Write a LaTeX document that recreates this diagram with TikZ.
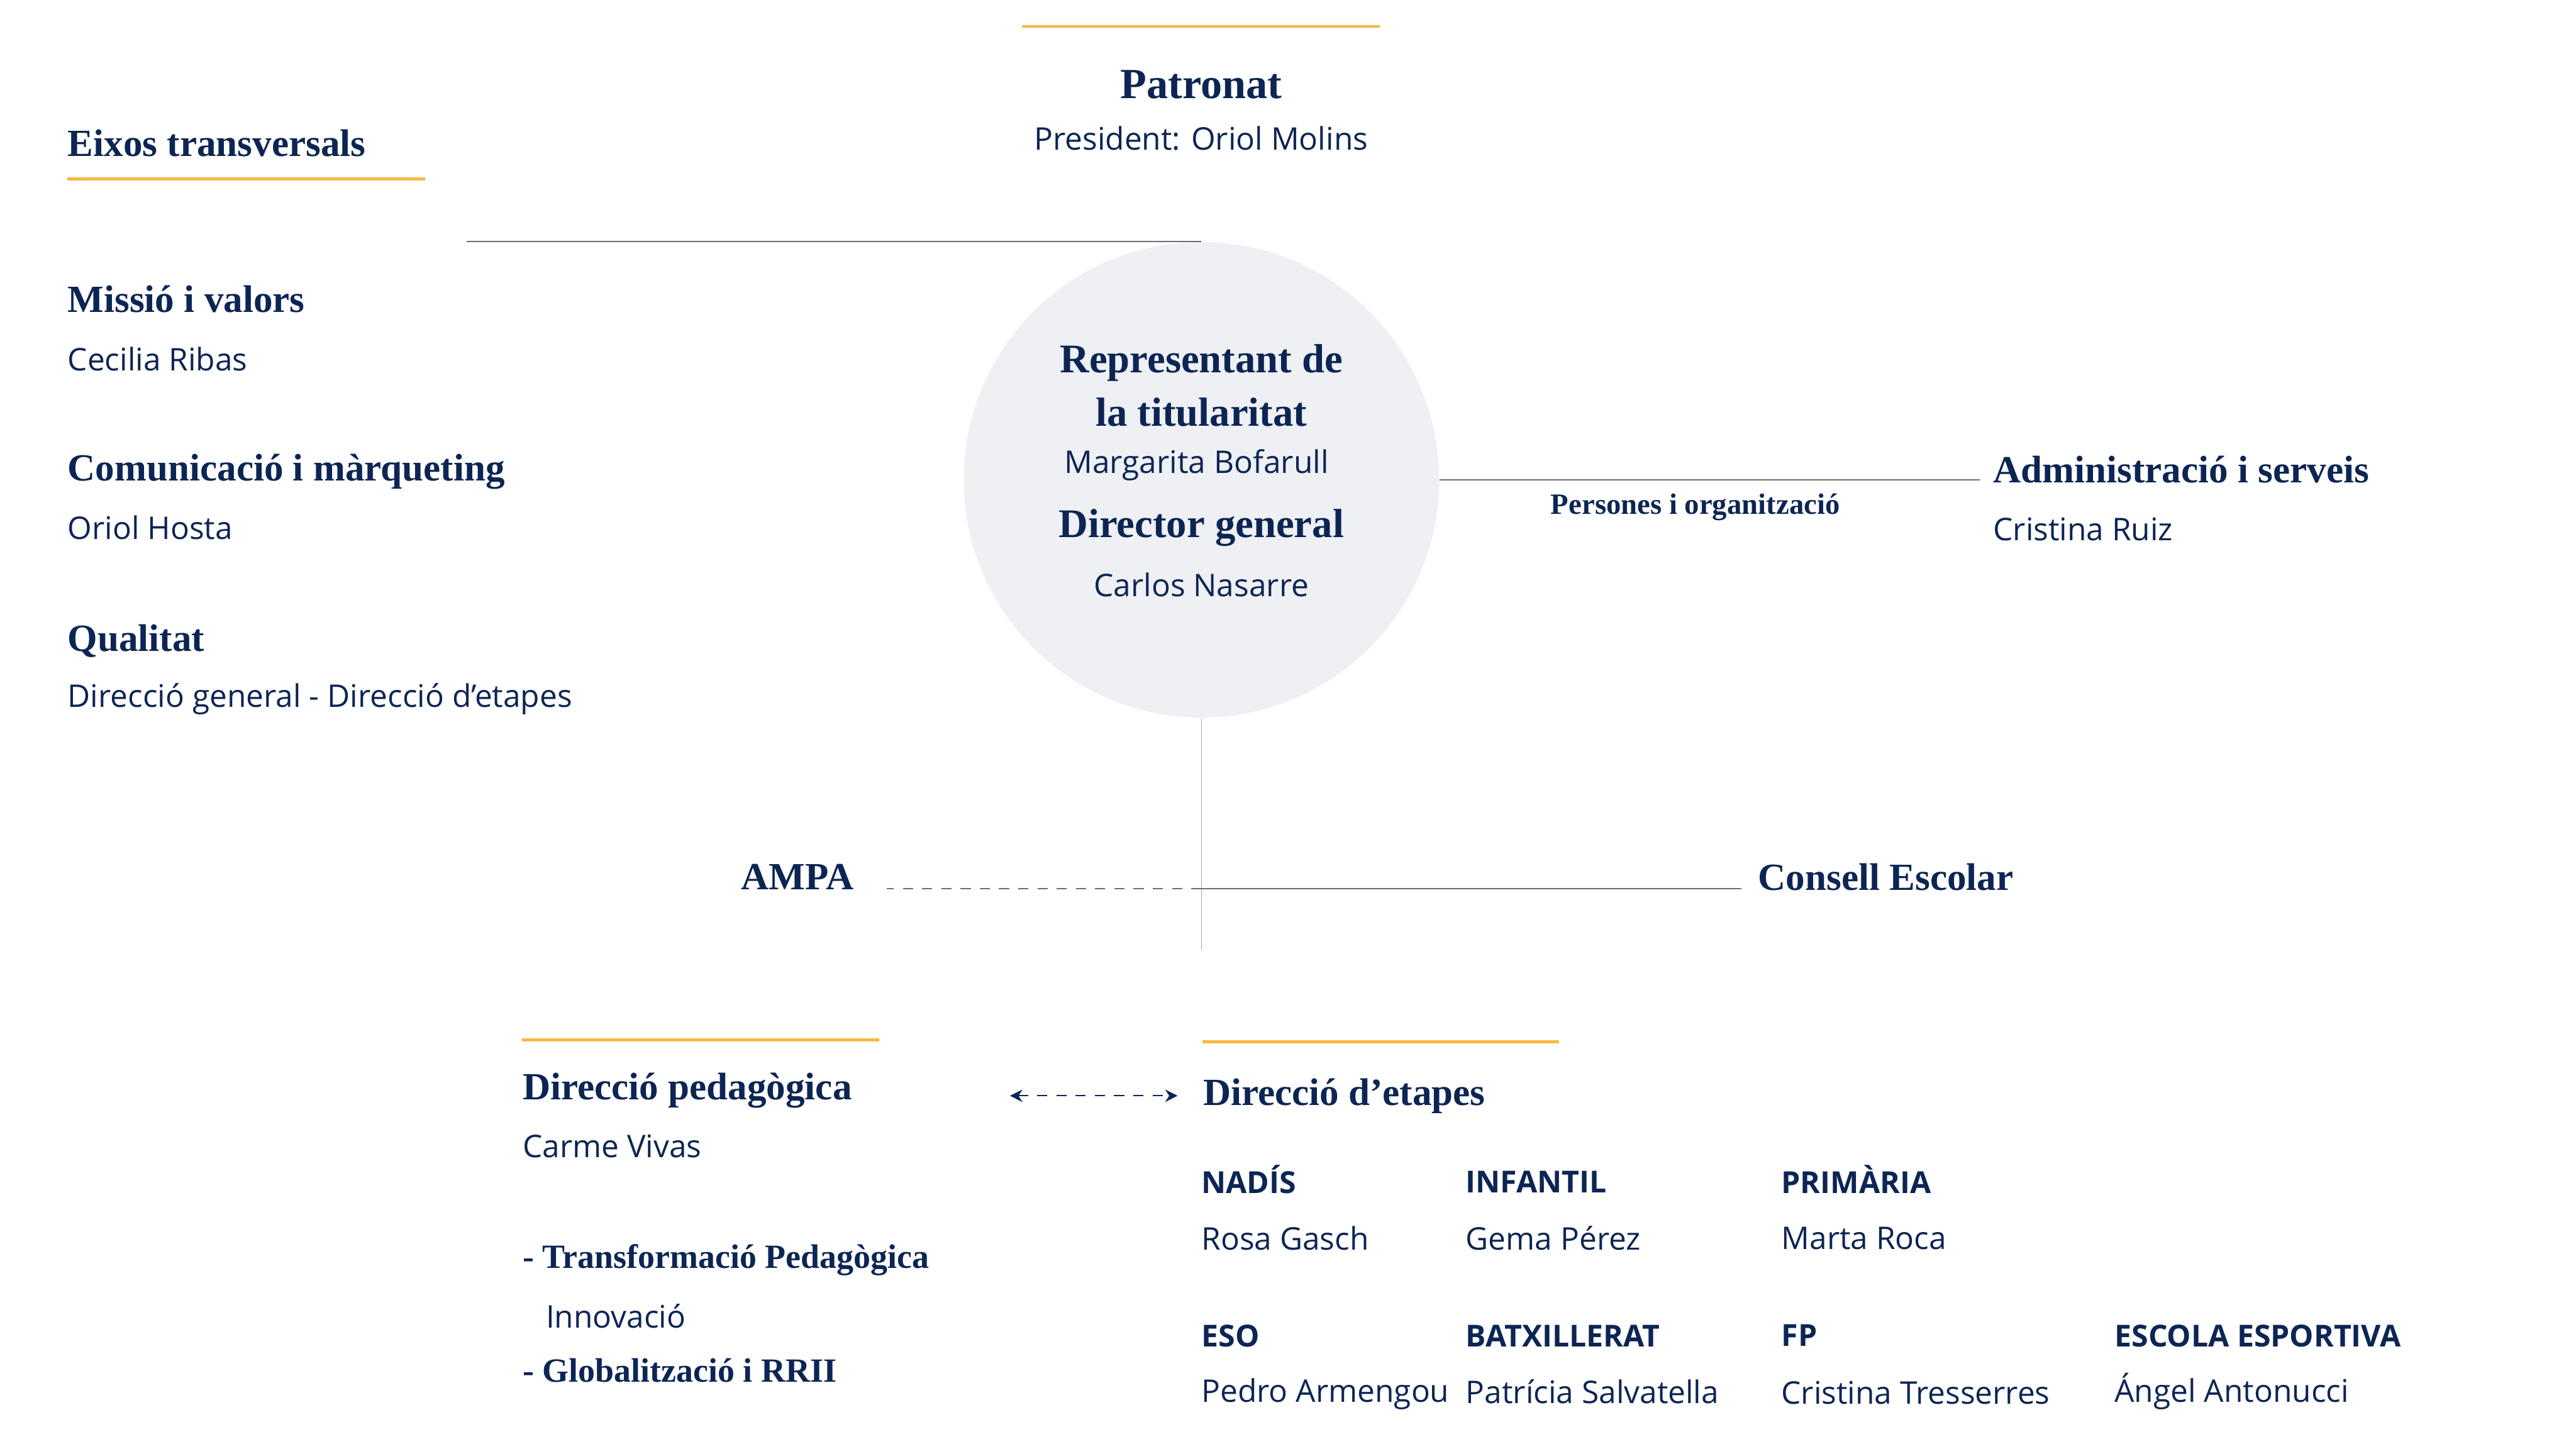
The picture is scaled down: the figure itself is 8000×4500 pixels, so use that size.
\documentclass[tikz,border=0pt]{standalone}
\usepackage{fontspec}
\setmainfont{Liberation Serif}
\setsansfont{Open Sans}
\usetikzlibrary{positioning, arrows.meta}
\definecolor{navy}{RGB}{12,37,84}
\definecolor{gold}{RGB}{245,184,65}
\definecolor{graylink}{RGB}{110,110,110}
\definecolor{graythin}{RGB}{165,165,165}
\definecolor{circlefill}{RGB}{238,240,243}
\tikzset{
  head/.style={
    anchor=west, inner sep=0pt, text=navy,
    font=\rmfamily\bfseries\fontsize{17}{20}\selectfont
  },
  headc/.style={head, anchor=center, font=\rmfamily\bfseries\fontsize{18}{21}\selectfont},
  subitem/.style={head, font=\rmfamily\bfseries\fontsize{15}{18}\selectfont},
  person/.style={
    anchor=west, inner sep=0pt, text=navy,
    font=\sffamily\fontsize{13.8}{16}\selectfont
  },
  personc/.style={person, anchor=center},
  stagelabel/.style={
    anchor=west, inner sep=0pt, text=navy,
    font=\sffamily\bfseries\fontsize{13.4}{15}\selectfont
  },
  goldbar/.style={gold, line width=1.3pt},
  linkline/.style={graylink, line width=0.6pt},
  linkdash/.style={linkline, dash pattern=on 4.5pt off 4pt},
  stemline/.style={graythin, line width=0.4pt},
  biarrow/.style={
    {Stealth[length=5.5pt,width=5.5pt]}-{Stealth[length=5.5pt,width=5.5pt]},
    navy, line width=0.6pt, dash pattern=on 4.5pt off 4pt
  },
  hubcircle/.style={circle, fill=circlefill, minimum size=7.39cm, inner sep=0pt}
}

\begin{document}
\begin{tikzpicture}[x=0.005cm, y=-0.005cm]
  \useasboundingbox (0,0) rectangle (8000,4500);

  % patronat
  \draw[goldbar] (3173,82) -- (4286,82);
  \node[headc, font=\rmfamily\bfseries\fontsize{19}{22}\selectfont] (patronat) at (3730,262) {Patronat};
  \node[personc] (president) at (3730,429) {President: Oriol Molins};

  % centre
  \node[hubcircle] (rep) at (3731,1490) {};
  \node[headc] (repttl) at (3731,1127) {Representant de};
  \node[headc] (repttl2) at (3731,1280) {la titularitat};
  \node[personc] (repname) at (3716,1444) {Margarita Bofarull};
  \node[headc] (dirttl) at (3731,1640) {Director general};
  \node[personc] (dirname) at (3731,1816) {Carlos Nasarre};

  % eixos transversals
  \node[head] (eixos) at (209,444) {Eixos transversals};
  \draw[goldbar] (209,556) -- (1321,556);
  \coordinate (eixosln) at (1449,745);
  \node[head] (missio) at (209,929) {Missió i valors};
  \node[person] (missioname) at (209,1115) {Cecilia Ribas};
  \node[head] (comunic) at (209,1464) {Comunicació i màrqueting};
  \node[person] (comunicname) at (209,1638) {Oriol Hosta};
  \node[head] (qualitat) at (209,1990) {Qualitat};
  \node[person] (qualitatname) at (209,2171) {Direcció general - Direcció d’etapes};

  % administracio
  \node[head] (admin) at (6189,1459) {Administració i serveis};
  \node[person] (adminname) at (6189,1643) {Cristina Ruiz};
  \node[head, anchor=center, font=\rmfamily\bfseries\fontsize{13}{15}\selectfont] (persones) at (5265,1576) {Persones i organització};

  % ampa / consell
  \coordinate (junction) at (3731,2760);
  \coordinate (stemend) at (3731,2949);
  \node[head, anchor=east] (ampa) at (2653,2724) {AMPA};
  \node[head] (consell) at (5459,2724) {Consell Escolar};

  \draw[linkline] (rep.north) -- (rep.north -| eixosln);
  \draw[linkline, shorten >=0.2cm] (rep.east) -- (rep.east -| admin.west);
  \draw[stemline] (rep.south) -- (stemend);
  \draw[linkline, shorten >=0.25cm] (junction) -- (junction -| consell.west);
  \draw[linkdash, shorten >=0.5cm] (junction) -- (junction -| ampa.east);

  % direccio pedagogica
  \draw[goldbar] (1622,3230) -- (2730,3230);
  \node[head] (pedag) at (1622,3386) {Direcció pedagògica};
  \node[person] (pedagname) at (1622,3560) {Carme Vivas};
  \node[subitem] (transf) at (1622,3913) {- Transformació Pedagògica};
  \node[person] (innov) at (1694,4087) {Innovació};
  \node[subitem] (global) at (1622,4255) {- Globalització i RRII};

  % direccio d'etapes
  \draw[goldbar] (3735,3235) -- (4842,3235);
  \node[head] (etapes) at (3735,3403) {Direcció d’etapes};
  \draw[biarrow, shorten <=2.45cm, shorten >=0.39cm] (pedag.east |- etapes.west) -- (etapes.west);

  \node[stagelabel] (nadis) at (3730,3663) {NADÍS};
  \node[person] (nadisname) at (3730,3845) {Rosa Gasch};
  \node[stagelabel] (infantil) at (4551,3670) {INFANTIL};
  \node[person] (infantilname) at (4551,3845) {Gema Pérez};
  \node[stagelabel] (primaria) at (5531,3663) {PRIMÀRIA};
  \node[person] (primarianame) at (5531,3845) {Marta Roca};
  \node[stagelabel] (eso) at (3730,4148) {ESO};
  \node[person] (esoname) at (3730,4330) {Pedro Armengou};
  \node[stagelabel] (batx) at (4551,4148) {BATXILLERAT};
  \node[person] (batxname) at (4551,4321) {Patrícia Salvatella};
  \node[stagelabel] (fp) at (5531,4148) {FP};
  \node[person] (fpname) at (5531,4325) {Cristina Tresserres};
  \node[stagelabel] (esport) at (6566,4148) {ESCOLA ESPORTIVA};
  \node[person] (esportname) at (6566,4321) {Ángel Antonucci};
\end{tikzpicture}
\end{document}
